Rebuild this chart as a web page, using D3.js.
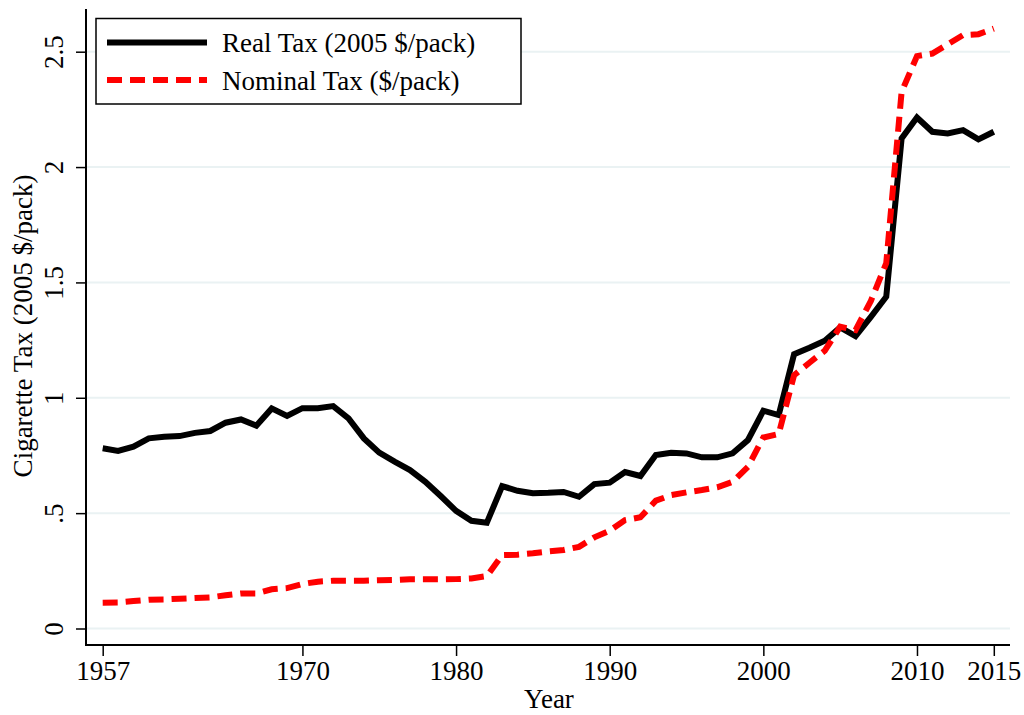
<!DOCTYPE html>
<html>
<head>
<meta charset="utf-8">
<script src="https://cdn.jsdelivr.net/npm/d3@7"></script>
<style>
  body { margin: 0; background: #fff; }
  svg { display: block; }
  text { font-family: "Liberation Serif", "Times New Roman", serif; fill: #000; }
</style>
</head>
<body>
<svg id="chart" width="1024" height="715"></svg>
<script>
const years = d3.range(1957, 2016);
const realTax = [0.781,0.770,0.788,0.824,0.831,0.834,0.848,0.856,0.892,0.906,
  0.879,0.954,0.921,0.955,0.955,0.964,0.911,0.824,0.762,0.723,
  0.687,0.636,0.574,0.510,0.467,0.458,0.617,0.597,0.586,0.588,
  0.592,0.571,0.626,0.632,0.678,0.661,0.752,0.762,0.759,0.742,
  0.742,0.759,0.817,0.944,0.925,1.189,1.217,1.247,1.305,1.267,
  1.351,1.438,2.124,2.215,2.153,2.146,2.160,2.120,2.153];
const nominalTax = [0.112,0.113,0.119,0.125,0.126,0.129,0.132,0.135,0.144,0.152,
  0.152,0.170,0.175,0.193,0.203,0.207,0.207,0.207,0.209,0.210,
  0.213,0.213,0.213,0.214,0.217,0.227,0.318,0.320,0.326,0.334,
  0.340,0.354,0.395,0.424,0.470,0.482,0.554,0.578,0.590,0.600,
  0.612,0.636,0.701,0.828,0.843,1.098,1.152,1.204,1.308,1.293,
  1.420,1.584,2.326,2.481,2.492,2.532,2.572,2.576,2.600];
const xTicks = [1957, 1970, 1980, 1990, 2000, 2010, 2015];
const yTicks = [0, 0.5, 1, 1.5, 2, 2.5];
const yTickLabels = ["0", ".5", "1", "1.5", "2", "2.5"];
const seriesNames = ["Real Tax (2005 $/pack)", "Nominal Tax ($/pack)"];

const FS = 27;
const svg = d3.select("#chart");
const axisLeftX = 86, axisRightX = 1010, axisTopY = 9, axisBottomY = 645;
const x = d3.scaleLinear().domain([1957, 2015]).range([102.7, 993.8]);
const y = d3.scaleLinear().domain([0, 2.5]).range([628.5, 51.7]);

// gridlines
svg.append("g").selectAll("line").data(yTicks).join("line")
  .attr("x1", axisLeftX).attr("x2", axisRightX)
  .attr("y1", d => y(d)).attr("y2", d => y(d))
  .attr("stroke", "#eaf2f3").attr("stroke-width", 2);

// y axis
const yAxis = svg.append("g").attr("transform", `translate(${axisLeftX},0)`)
  .call(d3.axisLeft(y).tickValues(yTicks).tickSize(10).tickFormat((d,i) => yTickLabels[i]));
yAxis.select(".domain").remove();
yAxis.selectAll(".tick line").attr("stroke", "#000").attr("stroke-width", 1.5);
yAxis.selectAll(".tick text").remove();
yAxis.selectAll(".tick").append("text")
  .attr("transform", "translate(-23,0) rotate(-90)")
  .attr("text-anchor", "middle")
  .attr("font-size", FS)
  .text((d,i) => yTickLabels[i]);
svg.append("line").attr("x1", axisLeftX).attr("x2", axisLeftX)
  .attr("y1", axisTopY).attr("y2", axisBottomY + 1).attr("stroke", "#000").attr("stroke-width", 2);

// x axis
const xAxis = svg.append("g").attr("transform", `translate(0,${axisBottomY})`)
  .call(d3.axisBottom(x).tickValues(xTicks).tickSize(11).tickFormat(d3.format("d")));
xAxis.select(".domain").remove();
xAxis.selectAll(".tick line").attr("stroke", "#000").attr("stroke-width", 1.5);
xAxis.selectAll(".tick text").attr("font-size", FS).attr("y", 35).attr("dy", 0)
  .style("font-family", "'Liberation Serif', serif");
svg.append("line").attr("x1", axisLeftX - 1).attr("x2", axisRightX)
  .attr("y1", axisBottomY).attr("y2", axisBottomY).attr("stroke", "#000").attr("stroke-width", 2);

// axis titles
svg.append("text").attr("transform", "translate(32,326) rotate(-90)")
  .attr("text-anchor", "middle").attr("font-size", FS).text("Cigarette Tax (2005 $/pack)");
svg.append("text").attr("x", 549).attr("y", 708)
  .attr("text-anchor", "middle").attr("font-size", FS).text("Year");

// lines
const line = d3.line().x((d,i) => x(years[i])).y(d => y(d));
svg.append("path").datum(realTax).attr("d", line)
  .attr("fill", "none").attr("stroke", "#000").attr("stroke-width", 6)
  .attr("stroke-linejoin", "miter");
svg.append("path").datum(nominalTax).attr("d", line)
  .attr("fill", "none").attr("stroke", "#ff0000").attr("stroke-width", 6)
  .attr("stroke-dasharray", "15,8");

// legend
const lg = svg.append("g");
lg.append("rect").attr("x", 96).attr("y", 18.5).attr("width", 425).attr("height", 85.5)
  .attr("fill", "#fff").attr("stroke", "#000").attr("stroke-width", 1.5);
lg.append("line").attr("x1", 107).attr("x2", 207).attr("y1", 42.5).attr("y2", 42.5)
  .attr("stroke", "#000").attr("stroke-width", 6);
lg.append("line").attr("x1", 107).attr("x2", 207).attr("y1", 80).attr("y2", 80)
  .attr("stroke", "#ff0000").attr("stroke-width", 6).attr("stroke-dasharray", "15,8");
lg.append("text").attr("x", 222).attr("y", 52).attr("font-size", FS).text(seriesNames[0]);
lg.append("text").attr("x", 222).attr("y", 90).attr("font-size", FS).text(seriesNames[1]);
</script>
</body>
</html>
